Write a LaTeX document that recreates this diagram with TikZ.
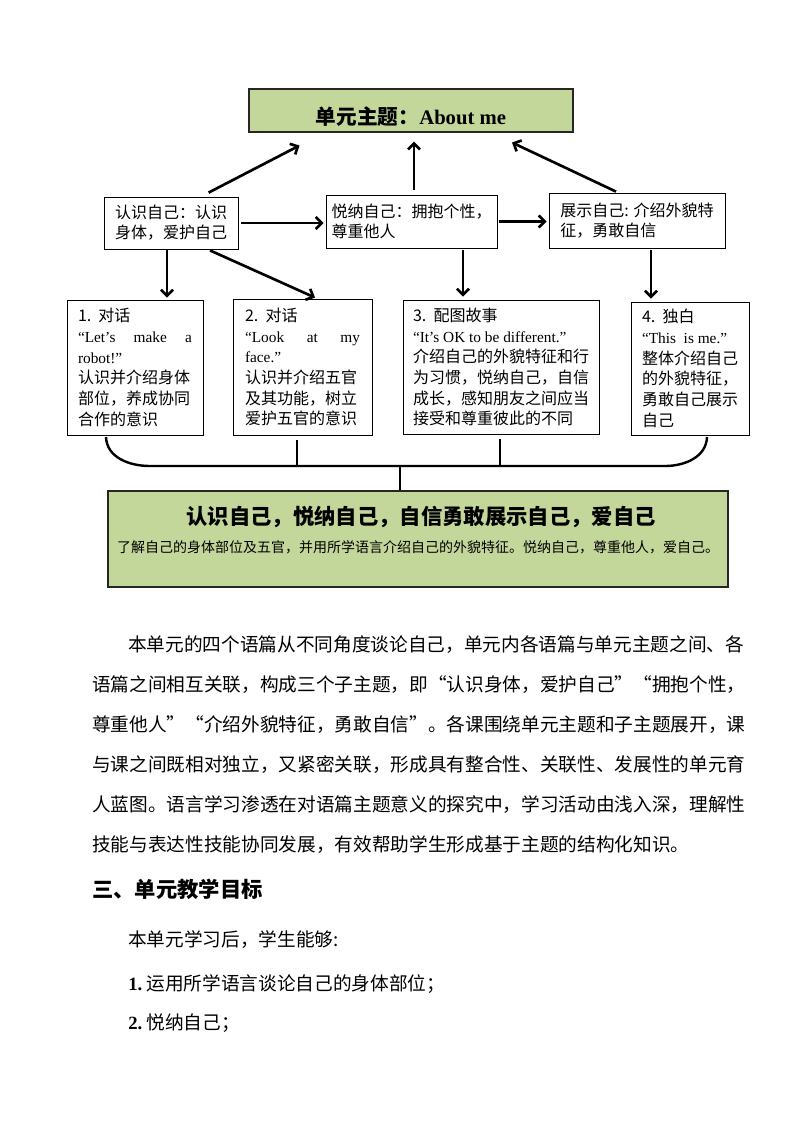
\documentclass[tikz,border=0pt]{standalone}
\usepackage{fontspec}
\setmainfont{Liberation Serif}
\newfontfamily\cjk{Noto Sans CJK SC}
\usetikzlibrary{calc,arrows.meta}
\XeTeXlinebreaklocale "zh"
\XeTeXlinebreakskip=0pt plus 1pt
\definecolor{themegreen}{RGB}{196,215,155}
\newcommand{\eng}{\fontsize{11.5}{15.5}\selectfont\rmfamily}
\tikzset{
  textbox/.style={draw, line width=0.6pt, inner sep=0pt, align=left,
    font=\cjk\fontsize{12}{15.5}\selectfont},
  greenbox/.style={draw=black!85, line width=0.8pt, fill=themegreen, inner sep=0pt},
  arr/.style={-{Straight Barb[length=4.5pt,width=9pt]}, line width=2pt},
  brace/.style={line width=1.8pt},
  bodyline/.style={anchor=west, inner sep=0pt, font=\cjk\fontsize{14}{16}\selectfont}
}
\begin{document}
\begin{tikzpicture}[x=0.75pt,y=-0.75pt]
\useasboundingbox (0,0) rectangle (794,1123);

% theme
\node[greenbox, minimum width=243pt, minimum height=32.25pt] (top) at (411,110.5) {};
\node[inner sep=0pt, font=\cjk\bfseries\fontsize{15.5}{17}\selectfont] (toptitle) at ($(top.north)+(0,28.5)$)
  {单元主题：{\rmfamily About me}};

% sub themes
\node[textbox, font=\cjk\fontsize{12}{15}\selectfont, minimum width=100.5pt, minimum height=39pt] (know) at (171,223)
  {认识自己：认识\\身体，爱护自己};
\node[textbox, font=\cjk\fontsize{12}{15}\selectfont, minimum width=128.25pt, minimum height=39.75pt] (accept) at (411.5,221.5)
  {悦纳自己：拥抱个性，\\尊重他人};
\node[textbox, font=\cjk\fontsize{12}{15}\selectfont, minimum width=132pt, minimum height=41.25pt] (show) at (637,220.5)
  {展示自己: 介绍外貌特\\征，勇敢自信};

% lessons
\node[textbox, minimum width=102pt, minimum height=101.25pt] (talkone) at (135,367.5)
  {1.\ \ 对话\\
   \makebox[85.5pt][s]{\eng “Let’s make a}\\
   {\eng robot!”}\\
   认识并介绍身体\\
   部位，养成协同\\
   合作的意识};
\node[textbox, minimum width=104.25pt, minimum height=102pt] (talktwo) at (302.5,367)
  {2.\ \ 对话\\
   \makebox[86.25pt][s]{\eng “Look at my}\\
   {\eng face.”}\\
   认识并介绍五官\\
   及其功能，树立\\
   爱护五官的意识};
\node[textbox, minimum width=147pt, minimum height=100.5pt] (story) at (501,367)
  {3.\ \ 配图故事\\
   {\eng “It’s OK to be different.”}\\
   介绍自己的外貌特征和行\\
   为习惯，悦纳自己，自信\\
   成长，感知朋友之间应当\\
   接受和尊重彼此的不同};
\node[textbox, minimum width=88.5pt, minimum height=99.75pt] (mono) at (690,368.5)
  {4.\ \ 独白\\
   {\eng “This\ \ is me.”}\\
   整体介绍自己\\
   的外貌特征，\\
   勇敢自己展示\\
   自己};

% summary
\node[greenbox, minimum width=465pt, minimum height=72pt] (sum) at (418,539) {};
\node[inner sep=0pt, font=\cjk\bfseries\fontsize{16}{18}\selectfont] (sumtitle) at ($(sum.north)+(3,27)$)
  {认识自己，悦纳自己，自信勇敢展示自己，爱自己};
\node[inner sep=0pt, font=\cjk\fontsize{10.5}{12}\selectfont] (sumtext) at ($(sum.north)+(0,57)$)
  {了解自己的身体部位及五官，并用所学语言介绍自己的外貌特征。悦纳自己，尊重他人，爱自己。};

% arrows up to the theme
\draw[arr] ($(know.north west)+(105,-4)$) -- ($(top.south west)+(51,13)$);
\draw[arr] ($(accept.north)+(2.5,-5)$) -- ($(top.south)+(3,9)$);
\draw[arr] ($(show.north)+(-21,-1)$) -- ($(top.south)+(101,10)$);

% arrows across
\draw[arr, shorten <=2.25pt, shorten >=1.5pt] (know.east) -- (know.east -| accept.west);
\draw[arr, shorten <=1.5pt, shorten >=1.5pt] (accept.east) -- (accept.east -| show.west);

% arrows down to the lessons
\draw[arr] ($(know.south)+(-4,1)$) -- ($(know.south |- talkone.north)+(-4,-2)$);
\draw[arr] ($(know.south)+(39,1)$) -- ($(talktwo.north)+(12.5,-1)$);
\draw[arr] ($(accept.south)+(51.5,2)$) -- ($(accept.south |- story.north)+(51.5,-3)$);
\draw[arr] ($(show.south)+(14,2)$) -- ($(show.south |- mono.north)+(14,-3)$);

% brace
\coordinate (brl) at (106,437);
\coordinate (brr) at (707,437);
\draw[brace] (brl) to[out=-88,in=180] (150,466) -- (665,466) to[out=0,in=-92] (brr);
\draw[brace] ($(talktwo.south)+(-5.5,5)$) -- ++(0,26);
\draw[brace] ($(story.south)+(-1,5)$) -- ++(0,26);
\draw[brace] ($(sum.north)+(-18,0)$) -- ++(0,-25);

% text below
\node[bodyline] (lone) at (128,645) {\makebox[462pt][s]{本单元的四个语篇从不同角度谈论自己，单元内各语篇与单元主题之间、各}};
\node[bodyline] (ltwo) at (92,685) {\makebox[490pt][s]{语篇之间相互关联，构成三个子主题，即“认识身体，爱护自己”“拥抱个性，}};
\node[bodyline] (lthree) at (92,725) {\makebox[490pt][s]{尊重他人”“介绍外貌特征，勇敢自信”。各课围绕单元主题和子主题展开，课}};
\node[bodyline] (lfour) at (92,765) {\makebox[490pt][s]{与课之间既相对独立，又紧密关联，形成具有整合性、关联性、发展性的单元育}};
\node[bodyline] (lfive) at (92,805) {\makebox[490pt][s]{人蓝图。语言学习渗透在对语篇主题意义的探究中，学习活动由浅入深，理解性}};
\node[bodyline] (lsix) at (92,845) {技能与表达性技能协同发展，有效帮助学生形成基于主题的结构化知识。};

\node[bodyline, font=\cjk\bfseries\fontsize{16}{18}\selectfont] (head) at (92,889) {三、单元教学目标};
\node[bodyline] (intro) at (128,940) {本单元学习后，学生能够:};
\node[bodyline] (aimone) at (128,984) {{\rmfamily\bfseries 1.}\ 运用所学语言谈论自己的身体部位；};
\node[bodyline] (aimtwo) at (128,1023) {{\rmfamily\bfseries 2.}\ 悦纳自己；};
\end{tikzpicture}
\end{document}
